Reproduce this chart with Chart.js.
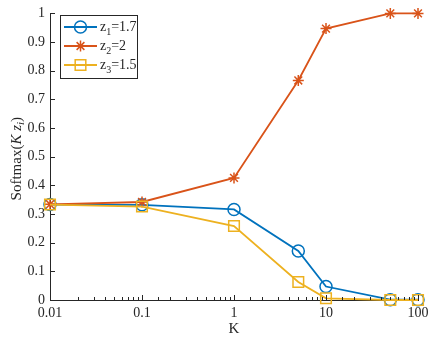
<!DOCTYPE html>
<html>
<head>
<meta charset="utf-8">
<script src="https://cdn.jsdelivr.net/npm/chart.js@4"></script>
<style>
  html, body { margin: 0; padding: 0; background: #fff; }
  #wrap { width: 436px; height: 342px; }
</style>
</head>
<body>
<div id="wrap"><canvas id="myChart" width="436" height="342"></canvas></div>
<script>
// data block
var kValues = [0.01, 0.1, 1, 5, 10, 50, 100];
var z1Values = [0.333, 0.332, 0.316, 0.171, 0.047, 0.001, 0.001];
var z2Values = [0.334, 0.342, 0.426, 0.766, 0.947, 1.0, 1.0];
var z3Values = [0.333, 0.326, 0.258, 0.063, 0.006, 0.0, 0.0];
var seriesNames = [['z', '1', '=1.7'], ['z', '2', '=2'], ['z', '3', '=1.5']];
var yTickLabels = ['0', '0.1', '0.2', '0.3', '0.4', '0.5', '0.6', '0.7', '0.8', '0.9', '1'];

var blue = '#0072BD', orange = '#D95319', yellow = '#EDB120';
var axisColor = '#262626';
var serif = '"Liberation Serif", "Times New Roman", serif';

function pts(ys) {
    return kValues.map(function (k, i) { return { x: k, y: ys[i] }; });
}

var styles = [
    { color: blue, pointStyle: 'circle', radius: 6 },
    { color: orange, pointStyle: 'star', radius: 5.5 },
    { color: yellow, pointStyle: 'rect', radius: 7.5 }
];

var data = {
    datasets: [z1Values, z2Values, z3Values].map(function (ys, i) {
        var s = styles[i];
        return {
            label: seriesNames[i].join(''),
            data: pts(ys),
            borderColor: s.color,
            backgroundColor: 'rgba(0,0,0,0)',
            pointBorderColor: s.color,
            pointBackgroundColor: 'rgba(0,0,0,0)',
            pointStyle: s.pointStyle,
            pointRadius: s.radius,
            pointBorderWidth: 1.5,
            borderWidth: 1.8,
            order: 3 - i,
            clip: false,
            tension: 0
        };
    })
};

function isPow10(v) {
    var l = Math.log10(v);
    return Math.abs(l - Math.round(l)) < 1e-6;
}

// inward ticks, titles, legend
var extras = {
    id: 'extras',
    afterDraw: function (chart) {
        var ctx = chart.ctx;
        var xs = chart.scales.x, ys = chart.scales.y;
        var area = chart.chartArea;
        ctx.save();
        ctx.strokeStyle = axisColor;
        ctx.lineWidth = 1;
        // x ticks
        xs.ticks.forEach(function (t) {
            var px = Math.round(xs.getPixelForValue(t.value)) + 0.5;
            var len = isPow10(t.value) ? 5 : 3;
            ctx.beginPath();
            ctx.moveTo(px, area.bottom);
            ctx.lineTo(px, area.bottom - len);
            ctx.stroke();
        });
        // y ticks
        ys.ticks.forEach(function (t) {
            var py = Math.round(ys.getPixelForValue(t.value)) + 0.5;
            ctx.beginPath();
            ctx.moveTo(area.left, py);
            ctx.lineTo(area.left + 5, py);
            ctx.stroke();
        });

        // x title
        ctx.fillStyle = axisColor;
        ctx.font = '15px ' + serif;
        ctx.textAlign = 'center';
        ctx.textBaseline = 'middle';
        ctx.fillText('K', (area.left + area.right) / 2, 329);

        // y title with italic parts
        var parts = [
            { t: 'Softmax(', f: '15px ' + serif, dy: 0 },
            { t: 'K', f: 'italic 15px ' + serif, dy: 0 },
            { t: ' z', f: 'italic 15px ' + serif, dy: 0 },
            { t: 'i', f: 'italic 11px ' + serif, dy: 4 },
            { t: ')', f: '15px ' + serif, dy: 0 }
        ];
        var total = 0;
        parts.forEach(function (p) { ctx.font = p.f; p.w = ctx.measureText(p.t).width; total += p.w; });
        ctx.translate(17, (area.top + area.bottom) / 2 + 2);
        ctx.rotate(-Math.PI / 2);
        ctx.textAlign = 'left';
        ctx.textBaseline = 'middle';
        var cx = -total / 2;
        parts.forEach(function (p) {
            ctx.font = p.f;
            ctx.fillText(p.t, cx, p.dy);
            cx += p.w;
        });
        ctx.setTransform(1, 0, 0, 1, 0, 0);

        // legend box
        var bx = 60.5, by = 15.5, bw = 77, bh = 63;
        ctx.fillStyle = '#fff';
        ctx.fillRect(bx, by, bw, bh);
        ctx.strokeStyle = axisColor;
        ctx.lineWidth = 1;
        ctx.strokeRect(bx, by, bw, bh);
        var rowY = [27, 46, 65];
        chart.data.datasets.forEach(function (ds, i) {
            var y = rowY[i];
            ctx.strokeStyle = ds.borderColor;
            ctx.lineWidth = 1.8;
            ctx.beginPath();
            ctx.moveTo(64, y);
            ctx.lineTo(97, y);
            ctx.stroke();
            ctx.lineWidth = 1.5;
            ctx.fillStyle = 'rgba(0,0,0,0)';
            Chart.helpers.drawPoint(ctx, {
                pointStyle: ds.pointStyle,
                radius: ds.pointRadius,
                rotation: 0,
                borderWidth: 1.5
            }, 80.5, y);
            ctx.fillStyle = axisColor;
            ctx.textAlign = 'left';
            ctx.textBaseline = 'middle';
            var nm = seriesNames[i];
            ctx.font = '14px ' + serif;
            var x = 100;
            ctx.fillText(nm[0], x, y);
            x += ctx.measureText(nm[0]).width;
            ctx.font = '10px ' + serif;
            ctx.fillText(nm[1], x, y + 5);
            x += ctx.measureText(nm[1]).width;
            ctx.font = '14px ' + serif;
            ctx.fillText(nm[2], x, y);
        });
        ctx.restore();
    }
};

var myCrt = document.getElementById('myChart');
var softmaxChart = new Chart(myCrt, {
    type: 'line',
    data: data,
    plugins: [extras],
    options: {
        responsive: false,
        animation: false,
        layout: { padding: { top: 11, right: 18, left: 0, bottom: 0 } },
        plugins: {
            legend: { display: false },
            tooltip: { enabled: false }
        },
        scales: {
            x: {
                type: 'logarithmic',
                min: 0.01,
                max: 100,
                grid: { display: false, drawTicks: false },
                border: { display: true, color: axisColor, width: 1 },
                afterFit: function (scale) { scale.height = 42; },
                ticks: {
                    autoSkip: false,
                    maxRotation: 0,
                    padding: 5,
                    color: axisColor,
                    font: { family: serif, size: 14 },
                    callback: function (v) {
                        return isPow10(v) ? String(Number(v.toPrecision(1))) : '';
                    }
                }
            },
            y: {
                min: 0,
                max: 1,
                grid: { display: false, drawTicks: false },
                border: { display: true, color: axisColor, width: 1 },
                afterFit: function (scale) { scale.width = 50; },
                ticks: {
                    stepSize: 0.1,
                    padding: 5,
                    color: axisColor,
                    font: { family: serif, size: 14 },
                    callback: function (v, i) { return yTickLabels[i]; }
                }
            }
        }
    }
});
</script>
</body>
</html>
